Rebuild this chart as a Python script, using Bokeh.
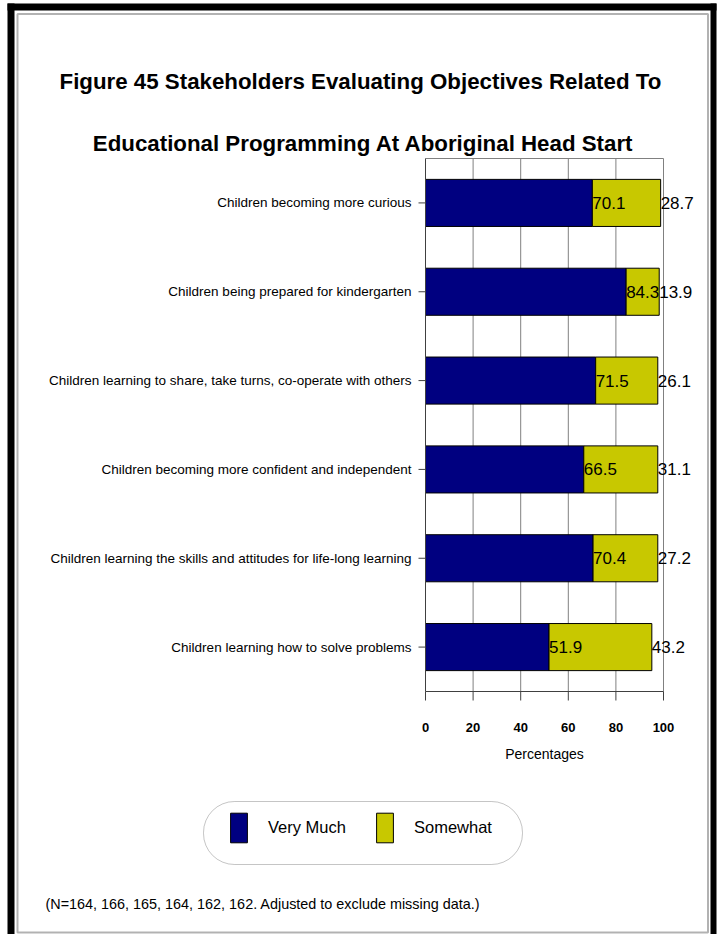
from bokeh.plotting import figure
from bokeh.models import (ColumnDataSource, Range1d, Label, LabelSet, BoxAnnotation)
from bokeh.embed import file_html
from bokeh.resources import INLINE
from bokeh.core.properties import value

# ---------------- data ----------------
categories = [
    "Children becoming more curious",
    "Children being prepared for kindergarten",
    "Children learning to share, take turns, co-operate with others",
    "Children becoming more confident and independent",
    "Children learning the skills and attitudes for life-long learning",
    "Children learning how to solve problems",
]
very_much = [70.1, 84.3, 71.5, 66.5, 70.4, 51.9]
somewhat = [28.7, 13.9, 26.1, 31.1, 27.2, 43.2]
series_names = ["Very Much", "Somewhat"]
x_ticks = [0, 20, 40, 60, 80, 100]
x_min, x_max = 0, 100
title_lines = [
    "Figure 45  Stakeholders Evaluating Objectives Related To",
    "Educational Programming At Aboriginal Head Start",
]
x_label = "Percentages"
footnote = "(N=164, 166, 165, 164, 162, 162. Adjusted to exclude missing data.)"

# ---------------- style / layout (canvas pixels) ----------------
NAVY = "#000080"
OLIVE = "#C8C800"
GRID = "#808080"
AXIS = "#404040"
FONT = "Liberation Sans"
W, H = 718, 934
PL, PR, PT, PB = 425, 663, 158, 691      # plot area on the canvas
n = len(categories)
XPX = (PR - PL) / (x_max - x_min)        # px per x unit
YPX = (PB - PT) / n                      # px per category slot


def X(px):
    return x_min + (px - PL) / XPX


def Y(py):
    return -0.5 + (py - PT) / YPX


pos = list(range(n))
src = ColumnDataSource(dict(
    pos=pos,
    cat=categories,
    very=very_much,
    some=somewhat,
    total=[a + b for a, b in zip(very_much, somewhat)],
    vlab=[f"{v:.1f}" for v in very_much],
    slab=[f"{v:.1f}" for v in somewhat],
))
tick_src = ColumnDataSource(dict(x=x_ticks, lab=[str(t) for t in x_ticks]))

p = figure(width=W, height=H, output_backend="svg", toolbar_location=None,
           x_range=Range1d(X(0), X(W)), y_range=Range1d(Y(H), Y(0)),
           x_axis_location=None, y_axis_location=None,
           min_border=0)
p.background_fill_color = "white"
p.border_fill_color = "white"
p.outline_line_color = None
p.grid.visible = False

y_top, y_bot = -0.5, n - 0.5

# grid lines and plot-area border
p.segment(x0=x_ticks[1:], y0=y_top, x1=x_ticks[1:], y1=y_bot, line_color=GRID, line_width=1)
p.segment(x0=x_min, y0=y_top, x1=x_max, y1=y_top, line_color=GRID, line_width=1)

# bars
p.hbar_stack(["very", "some"], y="pos", height=0.53, source=src,
             fill_color=[NAVY, OLIVE], line_color="black", line_width=1,
             legend_label=series_names)

# axes lines and ticks
p.segment(x0=x_min, y0=y_bot, x1=x_max, y1=y_bot, line_color=AXIS, line_width=1)
p.segment(x0=x_min, y0=y_top, x1=x_min, y1=y_bot, line_color=AXIS, line_width=1)
p.segment(x0="x", y0=y_bot, x1="x", y1=Y(PB + 9), source=tick_src, line_color=AXIS, line_width=1)
p.segment(x0=x_min, y0="pos", x1=X(PL - 7), y1="pos", source=src, line_color=AXIS, line_width=1)

# tick labels
p.add_layout(LabelSet(x=X(PL - 14), y="pos", text="cat", source=src,
                      text_align="right", text_baseline="middle",
                      text_font=value(FONT), text_font_size="13.5px", text_color="black"))
p.add_layout(LabelSet(x="x", y=Y(727), text="lab", source=tick_src,
                      text_align="center", text_baseline="middle",
                      text_font=value(FONT), text_font_size="13px",
                      text_font_style="bold", text_color="black"))
p.add_layout(Label(x=(x_min + x_max) / 2, y=Y(753), text=x_label,
                   text_align="center", text_baseline="middle",
                   text_font=FONT, text_font_size="14px", text_color="black"))

# value labels
for col, lab in (("very", "vlab"), ("total", "slab")):
    p.add_layout(LabelSet(x=col, y="pos", text=lab, source=src,
                          text_align="left", text_baseline="middle",
                          text_font=value(FONT), text_font_size="17px",
                          text_color="black"))

# title
for line, base in zip(title_lines, (80.5, 143)):
    p.add_layout(Label(x=X(363), y=Y(base), text=line,
                       text_align="center", text_baseline="alphabetic",
                       text_font=FONT, text_font_size="22.3px",
                       text_font_style="bold", text_color="black"))

# footnote
p.add_layout(Label(x=X(45), y=Y(903), text=footnote,
                   text_align="left", text_baseline="middle",
                   text_font=FONT, text_font_size="14.4px", text_color="black"))

# page frame: thick outer band (left, top, right) and thin inner rule
for l, r, t, b in ((7, 14, 3, H), (7, 716, 3, 10), (710, 716, 3, H)):
    p.add_layout(BoxAnnotation(left=X(l), right=X(r), top=Y(t), bottom=Y(b),
                               fill_color="black", fill_alpha=1, line_alpha=0))
p.add_layout(BoxAnnotation(left=X(17), right=X(707.5), top=Y(13.5), bottom=Y(932),
                           fill_alpha=0, line_color="black", line_width=2))

# legend
p.add_layout(BoxAnnotation(left=X(203), right=X(522), top=Y(801), bottom=Y(864),
                           fill_alpha=0, line_color=AXIS, line_width=1,
                           border_radius=31))
lg = p.legend[0]
lg.location = (215, H - 859)
lg.orientation = "horizontal"
lg.margin = 0
lg.padding = 13
lg.spacing = 28
lg.label_standoff = 19
lg.glyph_width = 21
lg.glyph_height = 37
lg.label_text_font = FONT
lg.label_text_font_size = "16.5px"
lg.label_text_color = "black"
lg.border_line_alpha = 0
lg.background_fill_alpha = 0

open("out.html", "w").write(file_html(p, INLINE))
